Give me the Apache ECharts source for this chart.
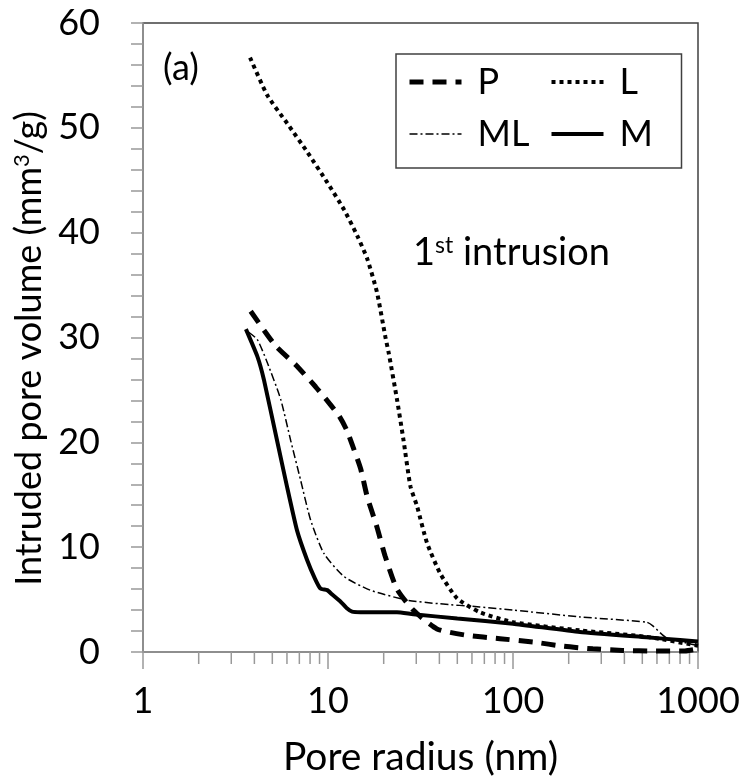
<!DOCTYPE html>
<html>
<head>
<meta charset="utf-8">
<script src="https://cdn.jsdelivr.net/npm/echarts@6/dist/echarts.min.js"></script>
<style>html,body{margin:0;padding:0;background:#fff;}#c{width:744px;height:783px;}</style>
</head>
<body>
<div id="c"></div>
<script>
const seriesNames = ['P', 'L', 'ML', 'M'];
const xTickLabels = ['1', '10', '100', '1000'];
const xMinorTicks = [2,3,4,5,6,7,8,9,20,30,40,50,60,70,80,90,200,300,400,500,600,700,800,900];

const dataP = [[3.82,32.5],[5.21,29.2],[6.68,27.4],[8.57,25.3],[10.3,23.6],[11.5,22.5],[12.6,21.2],[13.5,19.8],[15.0,17.5],[16.3,14.8],[18.4,11.9],[20.4,9.1],[23.6,6.0],[28.9,4.0],[38.8,2.2],[56,1.6],[85,1.27],[129,0.95],[187,0.55],[270,0.3],[390,0.15],[590,0.1],[850,0.1],[1000,0.3]];
const dataL = [[3.79,56.7],[4.7,53.1],[6.03,50.4],[7.72,47.7],[9.9,44.8],[12.2,42.2],[14.4,39.7],[16.3,37.5],[18.4,34.3],[20.4,30.1],[21.3,28.5],[23.6,24.1],[25.6,20.2],[27.9,15.8],[30.3,13.9],[34.3,10.4],[40.4,7.5],[50,5.1],[66,3.8],[100,2.85],[230,2.06],[526,1.45],[1000,0.6]];
const dataML = [[3.73,30.5],[4.15,29.8],[4.7,27.6],[5.55,24.1],[6.28,20.2],[7.11,16.4],[8.05,12.6],[9.5,9.4],[12.2,7.2],[16.9,5.9],[26.7,4.95],[40,4.6],[66,4.3],[100,4.0],[230,3.35],[526,2.85],[570,2.5],[670,1.4],[1000,0.6]];
const dataM = [[3.6,30.8],[4.15,28.2],[4.5,26.0],[5.3,20.2],[6.0,15.8],[6.8,11.6],[7.7,8.8],[8.5,7.0],[9.1,6.05],[9.9,5.9],[10.5,5.5],[11.7,4.8],[12.6,4.2],[13.5,3.85],[15,3.8],[23.6,3.8],[28.9,3.6],[50,3.2],[100,2.7],[230,1.9],[526,1.4],[800,1.15],[1000,1.0]];

const FONT = 'Lato';
const chart = echarts.init(document.getElementById('c'));
const option = {
  backgroundColor: '#fff',
  animation: false,
  textStyle: { fontFamily: FONT, color: '#000' },
  grid: { left: 143, right: 46, top: 23, bottom: 131, show: true, borderColor: '#404040', borderWidth: 1.5, backgroundColor: 'transparent' },
  legend: {
    data: seriesNames,
    left: 396, top: 54, width: 290,
    padding: [10, 6, 16, 11],
    itemGap: 16, itemWidth: 52, itemHeight: 14,
    borderColor: '#404040', borderWidth: 1.5,
    itemStyle: { color: 'rgba(0,0,0,0)', borderWidth: 0, opacity: 0 },
    lineStyle: { width: 'inherit', type: 'inherit', color: 'inherit' },
    textStyle: { fontFamily: FONT, fontSize: 36, color: '#000', width: 56, lineHeight: 32, padding: [0, 0, 0, 11] },
    selectedMode: false
  },
  xAxis: {
    type: 'log', logBase: 10, min: 1, max: 1000,
    axisLine: { show: true, lineStyle: { color: '#999', width: 1.5 } },
    axisTick: { show: true, length: 17, lineStyle: { color: '#999', width: 1.5 } },
    axisLabel: { fontSize: 36, color: '#000', margin: 31, fontFamily: FONT,
      formatter: function (v) { const s = String(Math.round(v)); return xTickLabels.indexOf(s) >= 0 ? s : ''; } },
    splitLine: { show: false },
    name: 'Pore radius (nm)', nameLocation: 'middle', nameGap: 86,
    nameTextStyle: { fontSize: 39, color: '#000', fontFamily: FONT }
  },
  yAxis: {
    type: 'value', min: 0, max: 60, interval: 10,
    axisLine: { show: true, lineStyle: { color: '#999', width: 1.5 } },
    axisTick: { show: true, inside: false, length: 12, lineStyle: { color: '#999', width: 1.5 } },
    minorTick: { show: true, splitNumber: 5, length: 12, lineStyle: { color: '#999', width: 1.5 } },
    axisLabel: { fontSize: 36, color: '#000', margin: 43, fontFamily: FONT },
    splitLine: { show: false },
    name: 'Intruded pore volume (mm{s|3}/g)', nameLocation: 'middle', nameGap: 88, nameRotate: 90,
    nameTextStyle: { fontSize: 36, color: '#000', fontFamily: FONT, padding: [0, 22, 0, 0],
      rich: { s: { fontSize: 22, verticalAlign: 'top', fontFamily: FONT, color: '#000', padding: [0,0,14,0] } } }
  },
  graphic: [
    { type: 'text', left: 163, top: 50, style: { text: '(a)', fontSize: 36, fontFamily: FONT, fill: '#000' } },
    { type: 'text', left: 413, top: 234, style: { text: '1{s|st} intrusion', fontSize: 38, fontFamily: FONT, fill: '#000',
      rich: { s: { fontSize: 23, fontFamily: FONT, fill: '#000', verticalAlign: 'top', padding: [0,0,15,0] } } } }
  ],
  series: [
    { name: 'P', type: 'line', data: dataP, symbol: 'none', showSymbol: false, smooth: 0.2,
      lineStyle: { color: '#000', width: 5, type: [14, 9] }, itemStyle: { color: '#000' }, z: 3 },
    { name: 'L', type: 'line', data: dataL, symbol: 'none', showSymbol: false, smooth: 0.2,
      lineStyle: { color: '#000', width: 4, type: [4, 4] }, itemStyle: { color: '#000' }, z: 3 },
    { name: 'ML', type: 'line', data: dataML, symbol: 'none', showSymbol: false, smooth: 0.2,
      lineStyle: { color: '#000', width: 1.5, type: [8, 3, 2, 3] }, itemStyle: { color: '#000' }, z: 3 },
    { name: 'M', type: 'line', data: dataM, symbol: 'none', showSymbol: false, smooth: 0.15,
      lineStyle: { color: '#000', width: 4 }, itemStyle: { color: '#000' }, z: 3 },
    { name: 'minorX', type: 'custom', data: xMinorTicks.map(function (v) { return [v, 0]; }), clip: false, silent: true,
      renderItem: function (params, api) {
        const p = api.coord([api.value(0), 0]);
        return { type: 'line', shape: { x1: p[0], y1: p[1], x2: p[0], y2: p[1] + 12 }, style: { stroke: '#999', lineWidth: 1.5 } };
      } }
  ]
};
chart.setOption(option);
</script>
</body>
</html>
